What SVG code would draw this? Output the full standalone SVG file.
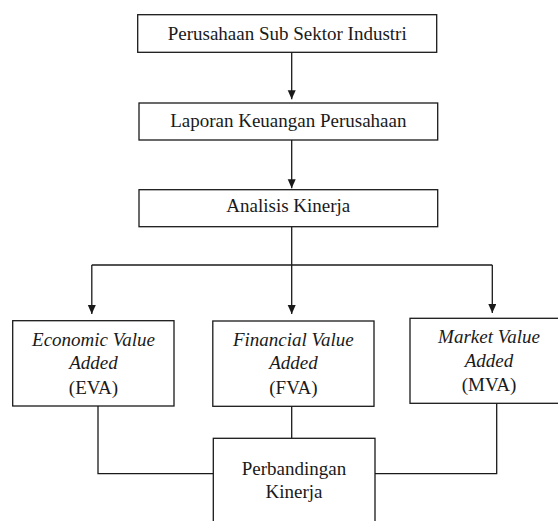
<svg xmlns="http://www.w3.org/2000/svg" width="558" height="521" viewBox="0 0 558 521">
<style>
  .box { fill: #ffffff; stroke: #1a1a1a; stroke-width: 1.3; }
  .t { font-family: 'Liberation Serif', 'DejaVu Serif', serif; font-size: 19px; fill: #1a1a1a; text-anchor: middle; }
  .i { font-style: italic; }
  .c { fill: none; stroke: #1a1a1a; stroke-width: 1.3; }
</style>
<defs>
  <marker id="ah" markerUnits="userSpaceOnUse" markerWidth="10" markerHeight="9" refX="9" refY="4" orient="auto">
    <path d="M0,0 L9,4 L0,8 z" fill="#1a1a1a"/>
  </marker>
</defs>
<rect width="558" height="521" fill="#ffffff"/>
<g id="connectors">
  <line class="c" x1="291.7" y1="52.3" x2="291.7" y2="99.3" marker-end="url(#ah)"/>
  <line class="c" x1="291.7" y1="140" x2="291.7" y2="188.3" marker-end="url(#ah)"/>
  <line class="c" x1="291.7" y1="226.7" x2="291.7" y2="265"/>
  <line class="c" x1="91.8" y1="265" x2="492.3" y2="265"/>
  <line class="c" x1="91.8" y1="265" x2="91.8" y2="314" marker-end="url(#ah)"/>
  <line class="c" x1="291.7" y1="265" x2="291.7" y2="314" marker-end="url(#ah)"/>
  <line class="c" x1="492.3" y1="265" x2="492.3" y2="313" marker-end="url(#ah)"/>
  <polyline class="c" points="98,406 98,473.7 213.3,473.7"/>
  <line class="c" x1="291.7" y1="406.3" x2="291.7" y2="438.3"/>
  <polyline class="c" points="496.7,403.3 496.7,473.7 375,473.7"/>
</g>
<g id="n1">
  <rect class="box" x="137.7" y="14.7" width="299" height="37.6"/>
  <text class="t" x="287.2" y="40" font-family="Liberation Serif, serif">Perusahaan Sub Sektor Industri</text>
</g>
<g id="n2">
  <rect class="box" x="139" y="103" width="298.7" height="37"/>
  <text class="t" x="288.3" y="126.7">Laporan Keuangan Perusahaan</text>
</g>
<g id="n3">
  <rect class="box" x="139" y="189.7" width="298.7" height="37"/>
  <text class="t" x="288.3" y="212.3">Analisis Kinerja</text>
</g>
<g id="eva">
  <rect class="box" x="12.7" y="320.7" width="161.3" height="85.3"/>
  <text class="t i" x="93.5" y="345.5">Economic Value</text>
  <text class="t i" x="93.5" y="369">Added</text>
  <text class="t" x="93.5" y="393.5">(EVA)</text>
</g>
<g id="fva">
  <rect class="box" x="212.8" y="321" width="161.2" height="85.3"/>
  <text class="t i" x="293.4" y="345.5">Financial Value</text>
  <text class="t i" x="293.4" y="369">Added</text>
  <text class="t" x="293.4" y="393.5">(FVA)</text>
</g>
<g id="mva">
  <rect class="box" x="410" y="318.3" width="158" height="85"/>
  <text class="t i" x="489" y="343.3">Market Value</text>
  <text class="t i" x="489" y="366.7">Added</text>
  <text class="t" x="489" y="390.7">(MVA)</text>
</g>
<g id="perbandingan">
  <rect class="box" x="213.3" y="438.3" width="161.7" height="95"/>
  <text class="t" x="294" y="475">Perbandingan</text>
  <text class="t" x="294" y="498.3">Kinerja</text>
</g>
</svg>
